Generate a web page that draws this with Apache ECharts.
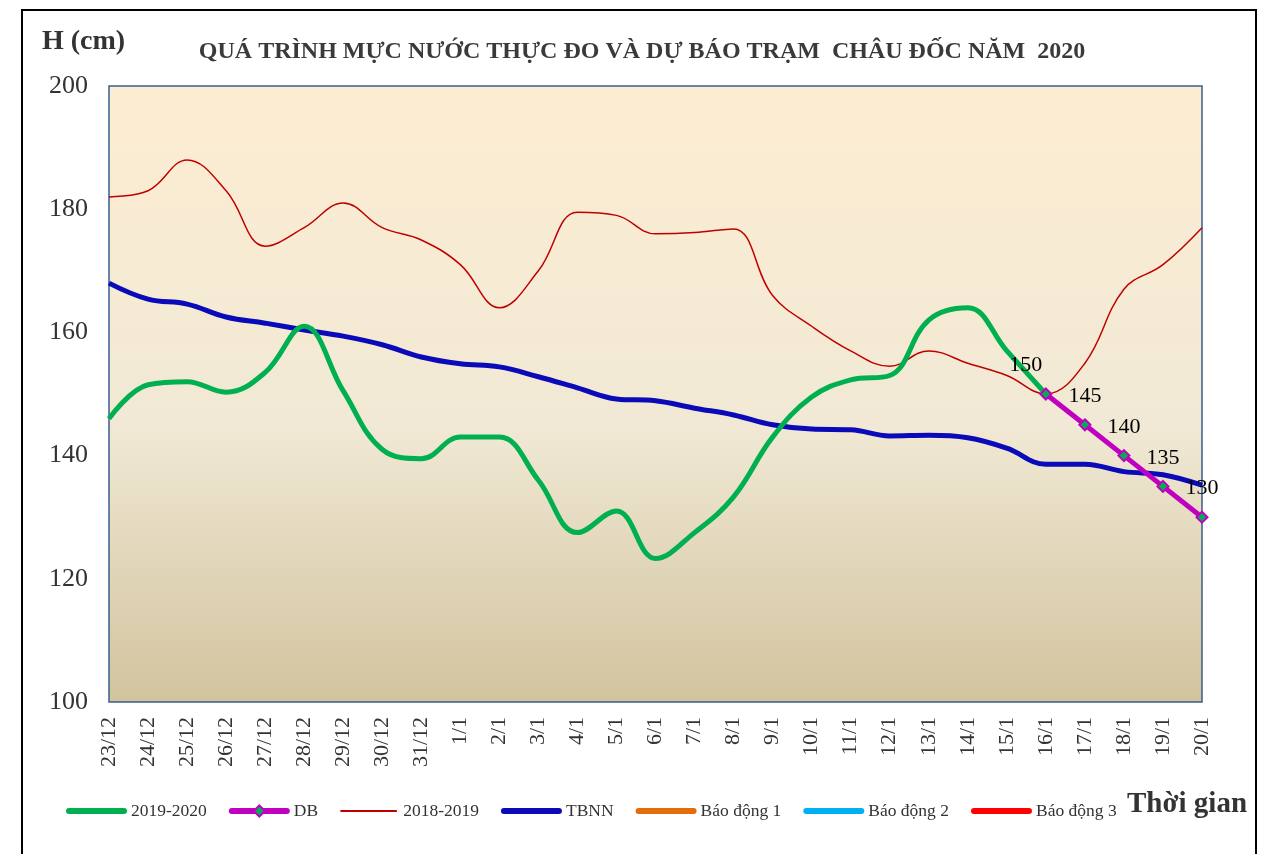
<!DOCTYPE html>
<html>
<head>
<meta charset="utf-8">
<script src="https://cdn.jsdelivr.net/npm/echarts@6/dist/echarts.min.js"></script>
<style>
  html, body { margin: 0; padding: 0; background: #fff; }
  #chart { width: 1261px; height: 854px; }
</style>
</head>
<body>
<div id="chart"></div>
<script>
// ngày
var days = ['23/12', '24/12', '25/12', '26/12', '27/12', '28/12', '29/12', '30/12', '31/12',
  '1/1', '2/1', '3/1', '4/1', '5/1', '6/1', '7/1', '8/1', '9/1', '10/1', '11/1', '12/1',
  '13/1', '14/1', '15/1', '16/1', '17/1', '18/1', '19/1', '20/1']

// mực nước thực đo 2019-2020
var h2020 = [146, 151.5, 152, 150.3, 153.5, 161, 150.5, 141, 139.5, 143, 143, 136, 127.5, 131,
  123.3, 127.5, 133.3, 143, 149.5, 152.3, 153, 162, 164, 157, 150, null, null, null, null]

// dự báo
var dbVals = [null, null, null, null, null, null, null, null, null, null, null, null, null, null,
  null, null, null, null, null, null, null, null, null, null, 150, 145, 140, 135, 130]

// cùng kỳ 2018-2019
var h2019 = [182, 183, 188, 183, 174, 177, 181, 177, 175, 171, 164, 170, 179.5, 179, 176, 176.2,
  176.8, 166, 161, 157, 154.5, 157, 155, 153, 150, 155, 167, 171, 177]

// trung bình nhiều năm
var tbnn = [168, 165.4, 164.6, 162.5, 161.5, 160.4, 159.4, 158, 156, 154.9, 154.4, 152.8, 151,
  149.2, 148.9, 147.7, 146.6, 145, 144.3, 144.2, 143.2, 143.3, 142.9, 141.2, 138.6, 138.6,
  137.4, 136.9, 135.2]

var yTicks = [100, 120, 140, 160, 180, 200]

var serif = "'Liberation Serif', 'Times New Roman', serif"

var myChart = echarts.init(document.getElementById('chart'))

var dbData = dbVals.map(function (v, i) {
  if (v !== null && i === 24) {
    return { value: v, label: { offset: [-20, 0] } }
  }
  return v
})

// legend icon: nét đậm, không có chấm tròn
function legendItem(name, width) {
  return {
    name: name,
    itemStyle: { opacity: 0 },
    lineStyle: { width: width, cap: 'round' }
  }
}

myChart.setOption({
  animation: false,
  title: {
    text: 'QUÁ TRÌNH MỰC NƯỚC THỰC ĐO VÀ DỰ BÁO TRẠM  CHÂU ĐỐC NĂM  2020',
    left: 637,
    top: 35,
    textAlign: 'center',
    textStyle: { fontFamily: serif, fontSize: 24, fontWeight: 'bold', color: '#3a3a3a' }
  },
  graphic: [
    {
      type: 'rect',
      shape: { x: 22, y: 10, width: 1234, height: 860 },
      style: { fill: 'none', stroke: '#000', lineWidth: 2 },
      silent: true
    },
    {
      type: 'text', left: 42, top: 28,
      style: { text: 'H (cm)', font: 'bold 28px ' + serif, fill: '#333' }
    },
    {
      type: 'text', left: 1127, top: 790,
      style: { text: 'Thời gian', font: 'bold 29px ' + serif, fill: '#333' }
    }
  ],
  legend: {
    left: 61,
    top: 797,
    itemWidth: 55,
    itemHeight: 14,
    itemGap: 22,
    textStyle: { fontFamily: serif, fontSize: 17.5, color: '#333', padding: [0, 0, 0, 2] },
    data: [
      legendItem('2019-2020', 6),
      { name: 'DB', lineStyle: { width: 6, cap: 'round' } },
      legendItem('2018-2019', 2),
      legendItem('TBNN', 6),
      legendItem('Báo động 1', 6),
      legendItem('Báo động 2', 6),
      legendItem('Báo động 3', 6)
    ]
  },
  grid: {
    left: 109, right: 59, top: 86, bottom: 152,
    show: true,
    borderColor: '#385D8A',
    borderWidth: 1.5,
    backgroundColor: {
      type: 'linear', x: 0, y: 0, x2: 0, y2: 1,
      colorStops: [
        { offset: 0, color: '#FDEDD2' },
        { offset: 0.55, color: '#F1E9D5' },
        { offset: 1, color: '#D2C39E' }
      ]
    }
  },
  xAxis: {
    type: 'category',
    boundaryGap: false,
    data: days,
    axisLine: { show: false },
    axisTick: { show: false },
    axisLabel: { rotate: 90, margin: 15, fontFamily: serif, fontSize: 22, color: '#333', interval: 0 }
  },
  yAxis: {
    type: 'value',
    min: yTicks[0],
    max: yTicks[yTicks.length - 1],
    interval: 20,
    splitLine: { show: false },
    axisLine: { show: false },
    axisTick: { show: false },
    axisLabel: { margin: 21, fontFamily: serif, fontSize: 26, color: '#333' }
  },
  series: [
    {
      name: '2019-2020', type: 'line', data: h2020, smooth: 0.4,
      showSymbol: false, symbol: 'none', z: 3,
      lineStyle: { color: '#00B050', width: 5 }, itemStyle: { color: '#00B050' }
    },
    {
      name: 'DB', type: 'line', data: dbData, z: 5,
      symbol: 'diamond', symbolSize: 11,
      lineStyle: { color: '#C000C0', width: 5 },
      itemStyle: { color: '#00B050', borderColor: '#C000C0', borderWidth: 2 },
      label: {
        show: true, position: 'top', distance: 11,
        fontFamily: serif, fontSize: 22, color: '#000'
      }
    },
    {
      name: '2018-2019', type: 'line', data: h2019, smooth: 0.4,
      showSymbol: false, symbol: 'none', z: 2,
      lineStyle: { color: '#C00000', width: 1.5 }, itemStyle: { color: '#C00000' }
    },
    {
      name: 'TBNN', type: 'line', data: tbnn, smooth: 0.4,
      showSymbol: false, symbol: 'none', z: 2,
      lineStyle: { color: '#0A0AB8', width: 5 }, itemStyle: { color: '#0A0AB8' }
    },
    {
      name: 'Báo động 1', type: 'line', data: [], symbol: 'none',
      lineStyle: { color: '#E46C0A', width: 5 }, itemStyle: { color: '#E46C0A' }
    },
    {
      name: 'Báo động 2', type: 'line', data: [], symbol: 'none',
      lineStyle: { color: '#00B0F0', width: 5 }, itemStyle: { color: '#00B0F0' }
    },
    {
      name: 'Báo động 3', type: 'line', data: [], symbol: 'none',
      lineStyle: { color: '#FF0000', width: 5 }, itemStyle: { color: '#FF0000' }
    }
  ]
})
</script>
</body>
</html>
